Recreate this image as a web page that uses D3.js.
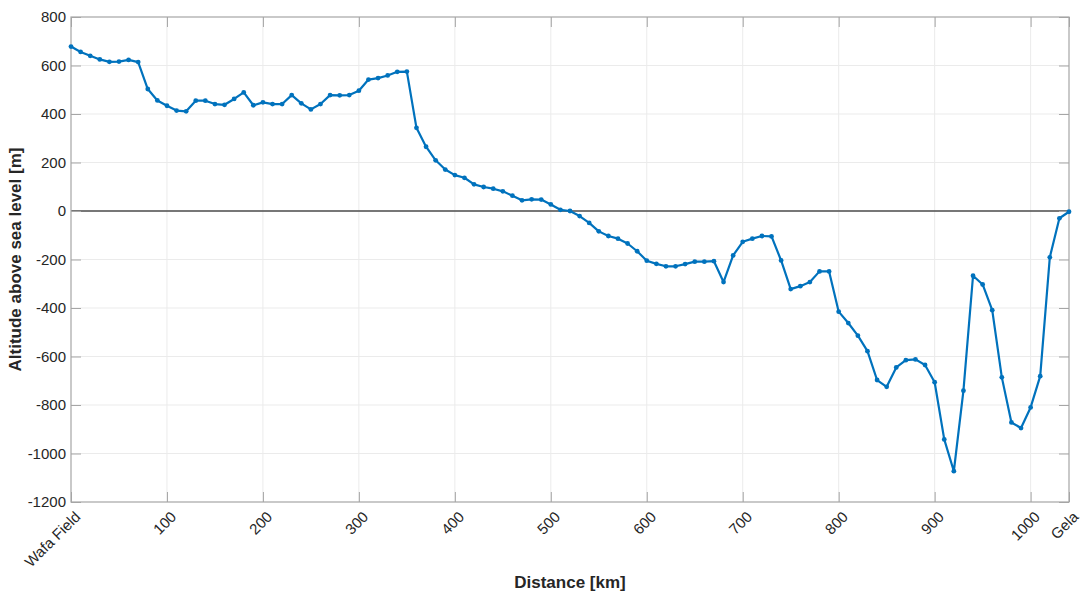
<!DOCTYPE html>
<html><head><meta charset="utf-8">
<script src="https://cdn.jsdelivr.net/npm/d3@7"></script>
<style>body{margin:0;background:#fff;} text{font-family:"Liberation Sans",Arial,sans-serif;}</style>
</head><body>
<svg id="c" width="1081" height="601"></svg>
<script>
const distance = [0,10,20,30,40,50,60,70,80,90,100,110,120,130,140,150,160,170,180,190,200,210,220,230,240,250,260,270,280,290,300,310,320,330,340,350,360,370,380,390,400,410,420,430,440,450,460,470,480,490,500,510,520,530,540,550,560,570,580,590,600,610,620,630,640,650,660,670,680,690,700,710,720,730,740,750,760,770,780,790,800,810,820,830,840,850,860,870,880,890,900,910,920,930,940,950,960,970,980,990,1000,1010,1020,1030,1040];
const altitude = [678,656,640,625,615,616,623,614,503,456,434,414,411,455,455,441,438,462,489,436,448,441,441,478,444,419,441,478,477,478,496,542,548,559,574,575,343,265,209,171,148,137,110,99,92,81,63,44,48,47,27,5,0,-21,-49,-84,-103,-114,-134,-166,-205,-218,-228,-228,-219,-209,-209,-207,-293,-183,-127,-114,-103,-105,-204,-322,-310,-293,-249,-249,-415,-462,-514,-578,-697,-725,-645,-615,-612,-635,-706,-942,-1073,-741,-267,-303,-409,-686,-872,-895,-810,-681,-191,-30,-3];
const xTickValues = [0,100,200,300,400,500,600,700,800,900,1000,1040];
const xTickLabels = ["Wafa Field","100","200","300","400","500","600","700","800","900","1000","Gela"];
const yTickValues = [-1200,-1000,-800,-600,-400,-200,0,200,400,600,800];

const svg = d3.select("#c");
const L=71, R=1069, T=17, B=502;
const x = d3.scaleLinear().domain([0,1040]).range([L,R]);
const y = d3.scaleLinear().domain([-1200,800]).range([B,T]);
const axisCol = "#a6a6a6", gridCol = "#ebebeb", textCol = "#262626";

// grid
svg.append("g").selectAll("line").data(xTickValues.filter(v=>v>0&&v<1040)).join("line")
  .attr("x1",d=>x(d)).attr("x2",d=>x(d)).attr("y1",T).attr("y2",B)
  .attr("stroke",gridCol).attr("stroke-width",1);
svg.append("g").selectAll("line").data(yTickValues.filter(v=>v>-1200&&v<800)).join("line")
  .attr("x1",L).attr("x2",R).attr("y1",d=>y(d)).attr("y2",d=>y(d))
  .attr("stroke",gridCol).attr("stroke-width",1);

// zero line
svg.append("line").attr("x1",L).attr("x2",R).attr("y1",y(0)).attr("y2",y(0))
  .attr("stroke","#4d4d4d").attr("stroke-width",1.6);

// axes
const xb = d3.axisBottom(x).tickValues(xTickValues).tickSize(-10).tickFormat((d,i)=>xTickLabels[i]);
const gx = svg.append("g").attr("transform",`translate(0,${B})`).call(xb);
gx.select(".domain").remove();
gx.selectAll(".tick line").attr("stroke",axisCol);
gx.selectAll(".tick text").attr("fill",textCol).attr("font-size",15)
  .attr("text-anchor","end").attr("dy",null).attr("y",0)
  .attr("transform","translate(7,13) rotate(-45)").attr("dominant-baseline","middle");

const gxt = svg.append("g").attr("transform",`translate(0,${T})`).call(d3.axisTop(x).tickValues(xTickValues).tickSize(-10).tickFormat(""));
gxt.select(".domain").remove();
gxt.selectAll(".tick line").attr("stroke",axisCol);

const yl = d3.axisLeft(y).tickValues(yTickValues).tickSize(-10).tickFormat(d=>String(d));
const gy = svg.append("g").attr("transform",`translate(${L},0)`).call(yl);
gy.select(".domain").remove();
gy.selectAll(".tick line").attr("stroke",axisCol);
gy.selectAll(".tick text").attr("fill",textCol).attr("font-size",15).attr("x",-5);

const gyr = svg.append("g").attr("transform",`translate(${R},0)`).call(d3.axisRight(y).tickValues(yTickValues).tickSize(-10).tickFormat(""));
gyr.select(".domain").remove();
gyr.selectAll(".tick line").attr("stroke",axisCol);

svg.append("rect").attr("x",L).attr("y",T).attr("width",R-L).attr("height",B-T)
  .attr("fill","none").attr("stroke",axisCol).attr("stroke-width",1.2);

// data
const pts = distance.map((d,i)=>[d,altitude[i]]);
svg.append("path").datum(pts).attr("fill","none").attr("stroke","#0072BD").attr("stroke-width",2.2)
  .attr("stroke-linejoin","round")
  .attr("d",d3.line().x(d=>x(d[0])).y(d=>y(d[1])));
svg.append("g").selectAll("circle").data(pts).join("circle")
  .attr("cx",d=>x(d[0])).attr("cy",d=>y(d[1])).attr("r",2.4).attr("fill","#0072BD");

// labels
svg.append("text").attr("x",(L+R)/2).attr("y",588).attr("text-anchor","middle")
  .attr("font-size",17).attr("font-weight","bold").attr("fill",textCol).text("Distance [km]");
svg.append("text").attr("transform",`translate(21,${(T+B)/2}) rotate(-90)`).attr("text-anchor","middle")
  .attr("font-size",17).attr("font-weight","bold").attr("fill",textCol).text("Altitude above sea level [m]");
</script>
</body></html>
